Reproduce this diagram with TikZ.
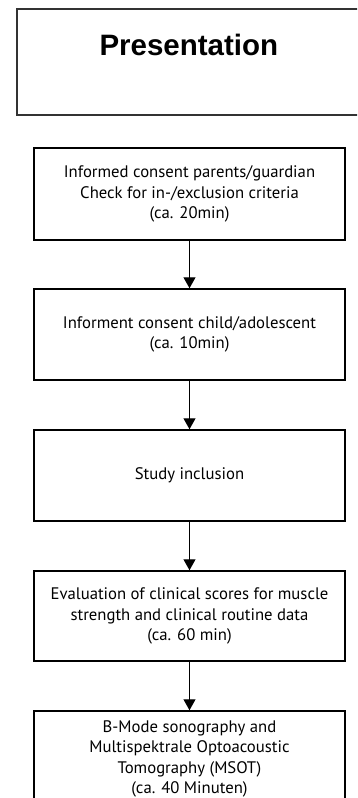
\documentclass[tikz,border=0pt]{standalone}
\usepackage{fontspec}
\setmainfont{PT Sans}
\newfontfamily\arialfont{Liberation Sans}
\usetikzlibrary{arrows.meta}
\begin{document}
\begin{tikzpicture}[x=1pt,y=-1pt,
  stepbox/.style={draw=black,line width=1.5pt,minimum width=311pt,minimum height=91pt,
    inner sep=0pt,align=center,font=\fontsize{16.7}{20.5}\selectfont},
  flow/.style={line width=1.2pt,-{Triangle[width=12pt,length=11pt]}}]
\useasboundingbox (0,0) rectangle (357,798);
\clip (0,0) rectangle (357,798);
\node[draw=black!80,line width=1.7pt,minimum width=344pt,inner sep=0pt,
  text height=47pt,text depth=59pt,anchor=north west,
  font=\arialfont\bfseries\fontsize{29.5}{34}\selectfont] (pres) at (16,8) {Presentation};
\node[stepbox,minimum height=92pt] (b1) at (189.5,194) {Informed consent parents/guardian\\Check for in-/exclusion criteria\\(ca. 20min)};
\node[stepbox] (b2) at (189.5,334.5) {Informent consent child/adolescent\\(ca. 10min)};
\node[stepbox] (b3) at (189.5,475.5) {Study inclusion};
\node[stepbox,minimum height=90pt] (b4) at (189.5,616) {Evaluation of clinical scores for muscle\\strength and clinical routine data\\(ca. 60 min)};
\node[stepbox,minimum height=96pt] (b5) at (189.5,759) {B-Mode sonography and\\Multispektrale Optoacoustic\\Tomography (MSOT)\\(ca. 40 Minuten)};
\draw[flow] (b1) -- (b2);
\draw[flow] (b2) -- (b3);
\draw[flow] (b3) -- (b4);
\draw[flow] (b4) -- (b5);
\end{tikzpicture}
\end{document}
